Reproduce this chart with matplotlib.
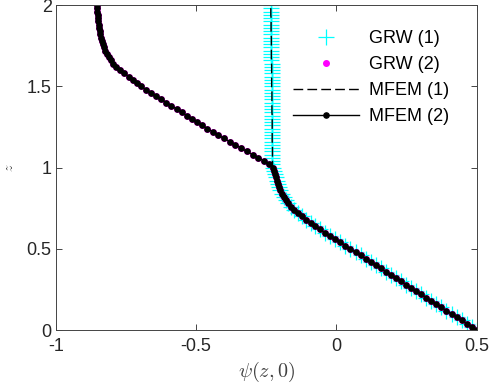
import numpy as np
import matplotlib
matplotlib.use("Agg")
import matplotlib.pyplot as plt

plt.rcParams['font.family'] = ['Liberation Sans', 'DejaVu Sans']
plt.rcParams['mathtext.fontset'] = 'cm'

# depth grid (z) and pressure head psi(z,0)
z = np.linspace(0, 2, 101)

# shared part (z = 0 ... 1.00)
psi_low = [0.500, 0.482, 0.464, 0.446, 0.428, 0.410, 0.392, 0.374, 0.356, 0.338,
           0.320, 0.302, 0.284, 0.266, 0.248, 0.230, 0.212, 0.194, 0.176, 0.158,
           0.140, 0.122, 0.104, 0.086, 0.068, 0.050, 0.032, 0.014, -0.004, -0.022,
           -0.042, -0.060, -0.077, -0.092, -0.107, -0.122, -0.138, -0.151, -0.162, -0.172,
           -0.180, -0.188, -0.195, -0.200, -0.204, -0.209, -0.213, -0.217, -0.220, -0.223,
           -0.226]

# case (1), z = 1.02 ... 2.00
psi_up1 = [-0.228, -0.228, -0.228, -0.228, -0.228, -0.228, -0.228, -0.229, -0.229, -0.229,
           -0.229, -0.229, -0.229, -0.229, -0.229, -0.229, -0.230, -0.230, -0.230, -0.230,
           -0.230, -0.230, -0.230, -0.230, -0.231, -0.231, -0.231, -0.231, -0.231, -0.231,
           -0.231, -0.231, -0.232, -0.232, -0.232, -0.232, -0.232, -0.232, -0.232, -0.232,
           -0.233, -0.233, -0.233, -0.233, -0.233, -0.233, -0.234, -0.234, -0.234, -0.234]

# case (2), z = 1.02 ... 2.00
psi_up2 = [-0.240, -0.258, -0.278, -0.299, -0.320, -0.340, -0.360, -0.381, -0.401, -0.422,
           -0.441, -0.460, -0.478, -0.497, -0.516, -0.534, -0.552, -0.570, -0.588, -0.606,
           -0.624, -0.643, -0.661, -0.679, -0.696, -0.712, -0.726, -0.740, -0.756, -0.770,
           -0.784, -0.796, -0.804, -0.811, -0.818, -0.824, -0.828, -0.832, -0.836, -0.839,
           -0.842, -0.844, -0.846, -0.848, -0.849, -0.850, -0.851, -0.852, -0.853, -0.853]

psi1 = np.array(psi_low + psi_up1)
psi2 = np.array(psi_low + psi_up2)

fig = plt.figure(figsize=(4.9, 3.87), dpi=100)
ax = fig.add_axes([0.114, 0.147, 0.859, 0.840])

ax.plot(psi1, z, '+', color='cyan', ms=11, mew=0.9, label='GRW (1)')
ax.plot(psi2, z, '.', color='magenta', ms=8, label='GRW (2)')
ax.plot(psi1, z, 'k', ls=(0, (7, 3)), lw=1.0, label='MFEM (1)')
ax.plot(psi2, z, 'k.-', lw=1.0, ms=7.5, label='MFEM (2)')

ax.set_xlim(-1, 0.5)
ax.set_ylim(0, 2)
ax.set_xticks([-1, -0.5, 0, 0.5])
ax.set_xticklabels(['-1', '-0.5', '0', '0.5'])
ax.set_yticks([0, 0.5, 1, 1.5, 2])
ax.set_yticklabels(['0', '0.5', '1', '1.5', '2'])
ax.tick_params(direction='in', top=True, right=True, labelsize=13,
               colors='#262626', length=4, width=0.6)
ax.tick_params(axis='x', pad=6)
ax.tick_params(axis='y', pad=3)
for s in ax.spines.values():
    s.set_color('#444444')
    s.set_linewidth(0.7)

ax.set_xlabel(r'$\psi(z,0)$', fontsize=14.5, color='#404040', labelpad=3)
ax.set_ylabel(r'$z$', fontsize=10, color='#404040', labelpad=8)

leg = ax.legend(loc='upper right', frameon=False, fontsize=13, handlelength=3.7,
                handletextpad=0.55, labelspacing=0.5, borderpad=0,
                borderaxespad=0, bbox_to_anchor=(0.935, 0.922))

fig.savefig('out.png', dpi=100)
